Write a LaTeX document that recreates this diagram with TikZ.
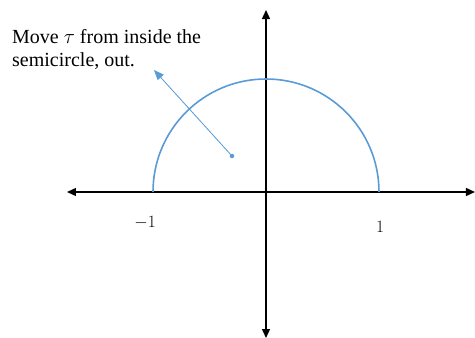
\documentclass[tikz,border=0pt]{standalone}
\usepackage{fontspec}
\setmainfont{Liberation Serif}
\usepackage{tikz}
\usetikzlibrary{positioning, arrows.meta}

\begin{document}
\begin{tikzpicture}[x=1pt, y=1pt,
        axis/.style={{Triangle[length=9pt, width=8pt]}-{Triangle[length=9pt, width=8pt]}, line width=1.4pt, black},
        curve/.style={line width=1.6pt, draw=semiblue},
        move/.style={-{Triangle[length=10pt, width=8pt]}, line width=0.8pt, draw=semiblue, fill=semiblue},
        tick/.style={font=\fontsize{17}{19}\selectfont},
        note/.style={align=left, anchor=base west, inner sep=0pt, font=\fontsize{20}{22.7}\selectfont},
        dot/.style={circle, fill=semiblue, inner sep=0pt, minimum size=4.5pt},
    ]
    \definecolor{semiblue}{RGB}{91,155,213}
    \useasboundingbox (-266,-146) rectangle (209,192);

    % Axes:
    \coordinate (xl) at (-199, 0);
    \coordinate (xr) at (209, 0);
    \coordinate (yt) at (0, 182);
    \coordinate (yb) at (0, -146);
    \draw[axis] (xl) -- (xr);
    \draw[axis] (yb) -- (yt);

    % Unit semicircle:
    \coordinate (one) at (113, 0);
    \draw[curve] (one) arc[start angle=0, end angle=180, radius=113];

    % Tick labels:
    \node[tick] (m1) at (-121, -31) {$-1$};
    \node[tick] (p1) at (114, -34.5) {$1$};

    % Point tau and the arrow pointing out:
    \node[dot] (tau) at (-34, 36) {};
    \coordinate (out) at (-112, 122);
    \draw[move] (tau.center) -- (out);

    % Note (base is the last line):
    \node[note] (txt) at (-254, 125.5) {Move $\tau$ from inside the\\semicircle, out.};
\end{tikzpicture}
\end{document}
